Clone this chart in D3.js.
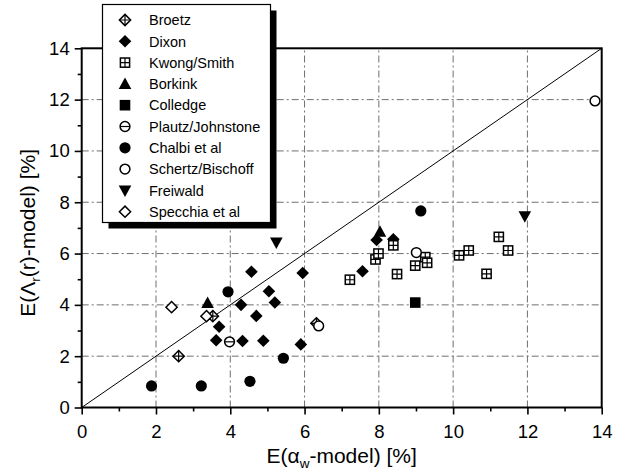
<!DOCTYPE html>
<html>
<head>
<meta charset="utf-8">
<script src="https://cdn.jsdelivr.net/npm/d3@7"></script>
<style>
  html, body { margin: 0; padding: 0; background: #fff; }
  svg { display: block; font-family: "Liberation Sans", Arial, Helvetica, sans-serif; }
</style>
</head>
<body>
<svg id="chart" width="624" height="473"></svg>
<script>
// Relative error of the Λr(r) model against the αw model, per data source [%]
const seriesNames = ["Broetz", "Dixon", "Kwong/Smith", "Borkink", "Colledge",
  "Plautz/Johnstone", "Chalbi et al", "Schertz/Bischoff", "Freiwald", "Specchia et al"];
const seriesSymbols = ["crossdiamond", "diamond", "crosssquare", "triangle", "square",
  "circleline", "circle", "opencircle", "triangledown", "opendiamond"];

const broetz = [[2.61, 2.00], [3.53, 3.56], [6.32, 3.28]];
const dixon = [[4.57, 5.29], [5.04, 4.53], [5.20, 4.09], [4.29, 4.00], [4.70, 3.57],
  [3.70, 3.15], [3.62, 2.62], [4.33, 2.59], [4.89, 2.60], [5.95, 5.24], [5.90, 2.46],
  [7.56, 5.31], [7.94, 6.53], [8.39, 6.56]];
const kwongSmith = [[7.22, 4.98], [7.91, 5.77], [7.99, 6.00], [8.39, 6.32], [8.49, 5.20],
  [8.98, 5.53], [9.25, 5.86], [9.30, 5.64], [10.16, 5.93], [10.42, 6.12], [10.90, 5.21],
  [11.23, 6.65], [11.48, 6.12]];
const borkink = [[3.39, 4.07], [8.03, 6.85]];
const colledge = [[8.98, 4.09]];
const plautzJohnstone = [[3.98, 2.56]];
const chalbi = [[3.94, 4.51], [1.88, 0.84], [3.22, 0.84], [4.53, 1.02], [5.43, 1.92], [9.13, 7.66]];
const schertzBischoff = [[6.38, 3.18], [9.01, 6.04], [13.82, 11.95]];
const freiwald = [[5.24, 6.43], [11.93, 7.45]];
const specchia = [[2.42, 3.91], [3.36, 3.56]];

const seriesData = [broetz, dixon, kwongSmith, borkink, colledge,
  plautzJohnstone, chalbi, schertzBischoff, freiwald, specchia];

const majorTicks = [0, 2, 4, 6, 8, 10, 12, 14];
const minorTicks = [1, 3, 5, 7, 9, 11, 13];
const axisMax = 14;

const svg = d3.select("#chart");
const margin = { left: 81.7, right: 22.3, top: 48.3, bottom: 65.5 };
const W = 624, H = 473;
const x = d3.scaleLinear().domain([0, axisMax]).range([margin.left, W - margin.right]);
const y = d3.scaleLinear().domain([0, axisMax]).range([H - margin.bottom, margin.top]);

// Dash-dot grid
const grid = svg.append("g").attr("stroke", "#6f6f6f").attr("stroke-width", 1)
  .attr("stroke-dasharray", "7,3,2,3").attr("fill", "none");
majorTicks.filter(v => v > 0 && v < axisMax).forEach(v => {
  grid.append("line").attr("x1", x(v)).attr("x2", x(v)).attr("y1", y(0)).attr("y2", y(axisMax));
  grid.append("line").attr("x1", x(0)).attr("x2", x(axisMax)).attr("y1", y(v)).attr("y2", y(v));
});

// Diagonal y = x
svg.append("line").attr("x1", x(0)).attr("y1", y(0)).attr("x2", x(axisMax)).attr("y2", y(axisMax))
  .attr("stroke", "#000").attr("stroke-width", 1);

// Axes with outward major/minor ticks
function styleAxis(g) {
  g.select(".domain").remove();
  g.selectAll("line").attr("stroke", "#000").attr("stroke-width", 1.6);
  g.selectAll("text").attr("font-size", 18.5).attr("fill", "#000");
}
svg.append("g").attr("transform", `translate(0,${y(0)})`)
  .call(d3.axisBottom(x).tickValues(majorTicks).tickSize(7).tickPadding(10).tickFormat(d3.format("d")))
  .call(styleAxis);
svg.append("g").attr("transform", `translate(0,${y(0)})`)
  .call(d3.axisBottom(x).tickValues(minorTicks).tickSize(4).tickFormat(""))
  .call(styleAxis);
svg.append("g").attr("transform", `translate(${x(0)},0)`)
  .call(d3.axisLeft(y).tickValues(majorTicks).tickSize(7).tickPadding(5).tickFormat(d3.format("d")))
  .call(styleAxis);
svg.append("g").attr("transform", `translate(${x(0)},0)`)
  .call(d3.axisLeft(y).tickValues(minorTicks).tickSize(4).tickFormat(""))
  .call(styleAxis);

// Plot frame
svg.append("rect").attr("x", x(0)).attr("y", y(axisMax))
  .attr("width", x(axisMax) - x(0)).attr("height", y(0) - y(axisMax))
  .attr("fill", "none").attr("stroke", "#000").attr("stroke-width", 2);

// Marker drawing
function drawSymbol(g, type) {
  const sw = 1.5;
  switch (type) {
    case "diamond":
      g.append("path").attr("d", "M0,-6.3L6.3,0L0,6.3L-6.3,0Z").attr("fill", "#000");
      break;
    case "opendiamond":
      g.append("path").attr("d", "M0,-5.6L5.6,0L0,5.6L-5.6,0Z").attr("fill", "#fff")
        .attr("stroke", "#000").attr("stroke-width", sw);
      break;
    case "crossdiamond":
      g.append("path").attr("d", "M0,-5.6L5.6,0L0,5.6L-5.6,0Z").attr("fill", "#fff")
        .attr("stroke", "#000").attr("stroke-width", sw);
      g.append("path").attr("d", "M0,-5.6V5.6M-5.6,0H5.6").attr("stroke", "#000").attr("stroke-width", 1.2);
      break;
    case "crosssquare":
      g.append("rect").attr("x", -4.6).attr("y", -4.6).attr("width", 9.2).attr("height", 9.2)
        .attr("fill", "#fff").attr("stroke", "#000").attr("stroke-width", sw);
      g.append("path").attr("d", "M0,-4.6V4.6M-4.6,0H4.6").attr("stroke", "#000").attr("stroke-width", 1.2);
      break;
    case "square":
      g.append("rect").attr("x", -5.3).attr("y", -5.3).attr("width", 10.6).attr("height", 10.6).attr("fill", "#000");
      break;
    case "triangle":
      g.append("path").attr("d", "M0,-6.5L6.3,5L-6.3,5Z").attr("fill", "#000");
      break;
    case "triangledown":
      g.append("path").attr("d", "M0,6.5L6.3,-5L-6.3,-5Z").attr("fill", "#000");
      break;
    case "circle":
      g.append("circle").attr("r", 5.6).attr("fill", "#000");
      break;
    case "opencircle":
      g.append("circle").attr("r", 4.9).attr("fill", "#fff").attr("stroke", "#000").attr("stroke-width", sw);
      break;
    case "circleline":
      g.append("circle").attr("r", 4.9).attr("fill", "#fff").attr("stroke", "#000").attr("stroke-width", sw);
      g.append("path").attr("d", "M-4.9,0H4.9").attr("stroke", "#000").attr("stroke-width", 1.2);
      break;
  }
}

const marks = svg.append("g");
seriesData.forEach((pts, i) => {
  marks.append("g").selectAll("g").data(pts).join("g")
    .attr("transform", d => `translate(${x(d[0])},${y(d[1])})`)
    .each(function () { drawSymbol(d3.select(this), seriesSymbols[i]); });
});

// Legend with drop shadow
const lg = { x: 102.5, y: 4.5, w: 168, h: 218, rowH: 21.3, first: 20 };
const legend = svg.append("g");
legend.append("rect").attr("x", lg.x + 6).attr("y", lg.y + 6).attr("width", lg.w).attr("height", lg.h).attr("fill", "#000");
legend.append("rect").attr("x", lg.x).attr("y", lg.y).attr("width", lg.w).attr("height", lg.h)
  .attr("fill", "#fff").attr("stroke", "#000").attr("stroke-width", 1.2);
seriesNames.forEach((name, i) => {
  const ry = lg.first + i * lg.rowH;
  drawSymbol(legend.append("g").attr("transform", `translate(125,${ry})`), seriesSymbols[i]);
  legend.append("text").attr("x", 149).attr("y", ry).attr("dy", "0.36em")
    .attr("font-size", 14.5).attr("fill", "#000").text(name);
});

// Axis titles
const xt = svg.append("text").attr("x", (x(0) + x(axisMax)) / 2).attr("y", 463)
  .attr("text-anchor", "middle").attr("font-size", 21).attr("fill", "#000");
xt.append("tspan").text("E(α");
xt.append("tspan").attr("font-size", 13.5).attr("dy", 5).text("w");
xt.append("tspan").attr("dy", -5).text("-model) [%]");

const yt = svg.append("text").attr("transform", `translate(35,${(y(0) + y(axisMax)) / 2 + 5}) rotate(-90)`)
  .attr("text-anchor", "middle").attr("font-size", 21).attr("fill", "#000");
yt.append("tspan").text("E(Λ");
yt.append("tspan").attr("font-size", 13.5).attr("dy", 5).text("r");
yt.append("tspan").attr("dy", -5).text("(r)-model) [%]");
</script>
</body>
</html>
